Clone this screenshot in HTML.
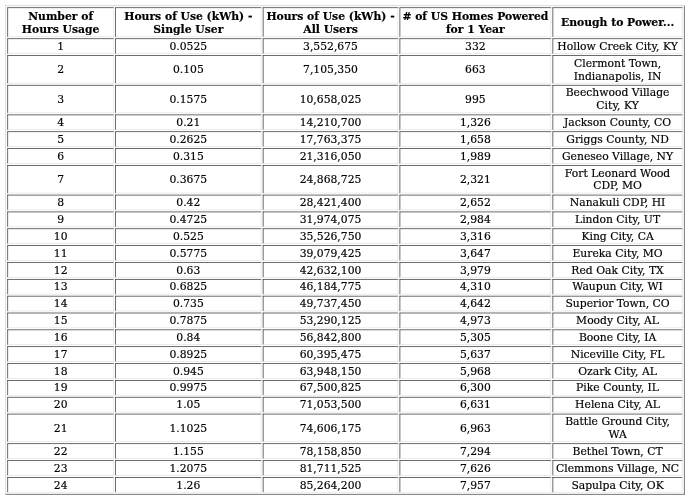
<!DOCTYPE html>
<html><head><meta charset="utf-8"><title>Hours of Use</title>
<style>
html,body{margin:0;padding:0;background:#fff;overflow:hidden;}
#wrap{width:1024px;transform:scale(0.673828125);transform-origin:0 0;padding:8px;box-sizing:border-box;}
table{width:100%;border-collapse:separate;border-spacing:2px;border:1px solid;border-color:#cacaca #383838 #383838 #cacaca;font-family:"DejaVu Serif","Liberation Serif",serif;font-size:16px;color:#000;-webkit-text-stroke:0.25px #000;table-layout:fixed;}
td,th{border:1px solid;border-color:#262626 #e2e2e2 #e2e2e2 #262626;padding:1px;text-align:center;vertical-align:middle;white-space:nowrap;line-height:19px;}
th{font-weight:bold;line-height:20px;padding:2px 1px 0 1px;}
</style></head><body>
<div id="wrap">
<table>
<colgroup><col style="width:158px"><col style="width:217px"><col style="width:201px"><col style="width:225px"><col></colgroup>
<tr><th>Number of<br>Hours Usage</th><th>Hours of Use (kWh) -<br>Single User</th><th>Hours of Use (kWh) -<br>All Users</th><th># of US Homes Powered<br>for 1 Year</th><th>Enough to Power...</th></tr>
<tr><td>1</td><td>0.0525</td><td>3,552,675</td><td>332</td><td>Hollow Creek City, KY</td></tr>
<tr><td>2</td><td>0.105</td><td>7,105,350</td><td>663</td><td>Clermont Town,<br>Indianapolis, IN</td></tr>
<tr><td>3</td><td>0.1575</td><td>10,658,025</td><td>995</td><td>Beechwood Village<br>City, KY</td></tr>
<tr><td>4</td><td>0.21</td><td>14,210,700</td><td>1,326</td><td>Jackson County, CO</td></tr>
<tr><td>5</td><td>0.2625</td><td>17,763,375</td><td>1,658</td><td>Griggs County, ND</td></tr>
<tr><td>6</td><td>0.315</td><td>21,316,050</td><td>1,989</td><td>Geneseo Village, NY</td></tr>
<tr><td>7</td><td>0.3675</td><td>24,868,725</td><td>2,321</td><td>Fort Leonard Wood<br>CDP, MO</td></tr>
<tr><td>8</td><td>0.42</td><td>28,421,400</td><td>2,652</td><td>Nanakuli CDP, HI</td></tr>
<tr><td>9</td><td>0.4725</td><td>31,974,075</td><td>2,984</td><td>Lindon City, UT</td></tr>
<tr><td>10</td><td>0.525</td><td>35,526,750</td><td>3,316</td><td>King City, CA</td></tr>
<tr><td>11</td><td>0.5775</td><td>39,079,425</td><td>3,647</td><td>Eureka City, MO</td></tr>
<tr><td>12</td><td>0.63</td><td>42,632,100</td><td>3,979</td><td>Red Oak City, TX</td></tr>
<tr><td>13</td><td>0.6825</td><td>46,184,775</td><td>4,310</td><td>Waupun City, WI</td></tr>
<tr><td>14</td><td>0.735</td><td>49,737,450</td><td>4,642</td><td>Superior Town, CO</td></tr>
<tr><td>15</td><td>0.7875</td><td>53,290,125</td><td>4,973</td><td>Moody City, AL</td></tr>
<tr><td>16</td><td>0.84</td><td>56,842,800</td><td>5,305</td><td>Boone City, IA</td></tr>
<tr><td>17</td><td>0.8925</td><td>60,395,475</td><td>5,637</td><td>Niceville City, FL</td></tr>
<tr><td>18</td><td>0.945</td><td>63,948,150</td><td>5,968</td><td>Ozark City, AL</td></tr>
<tr><td>19</td><td>0.9975</td><td>67,500,825</td><td>6,300</td><td>Pike County, IL</td></tr>
<tr><td>20</td><td>1.05</td><td>71,053,500</td><td>6,631</td><td>Helena City, AL</td></tr>
<tr><td>21</td><td>1.1025</td><td>74,606,175</td><td>6,963</td><td>Battle Ground City,<br>WA</td></tr>
<tr><td>22</td><td>1.155</td><td>78,158,850</td><td>7,294</td><td>Bethel Town, CT</td></tr>
<tr><td>23</td><td>1.2075</td><td>81,711,525</td><td>7,626</td><td>Clemmons Village, NC</td></tr>
<tr><td>24</td><td>1.26</td><td>85,264,200</td><td>7,957</td><td>Sapulpa City, OK</td></tr>
</table>
</div>
</body></html>
